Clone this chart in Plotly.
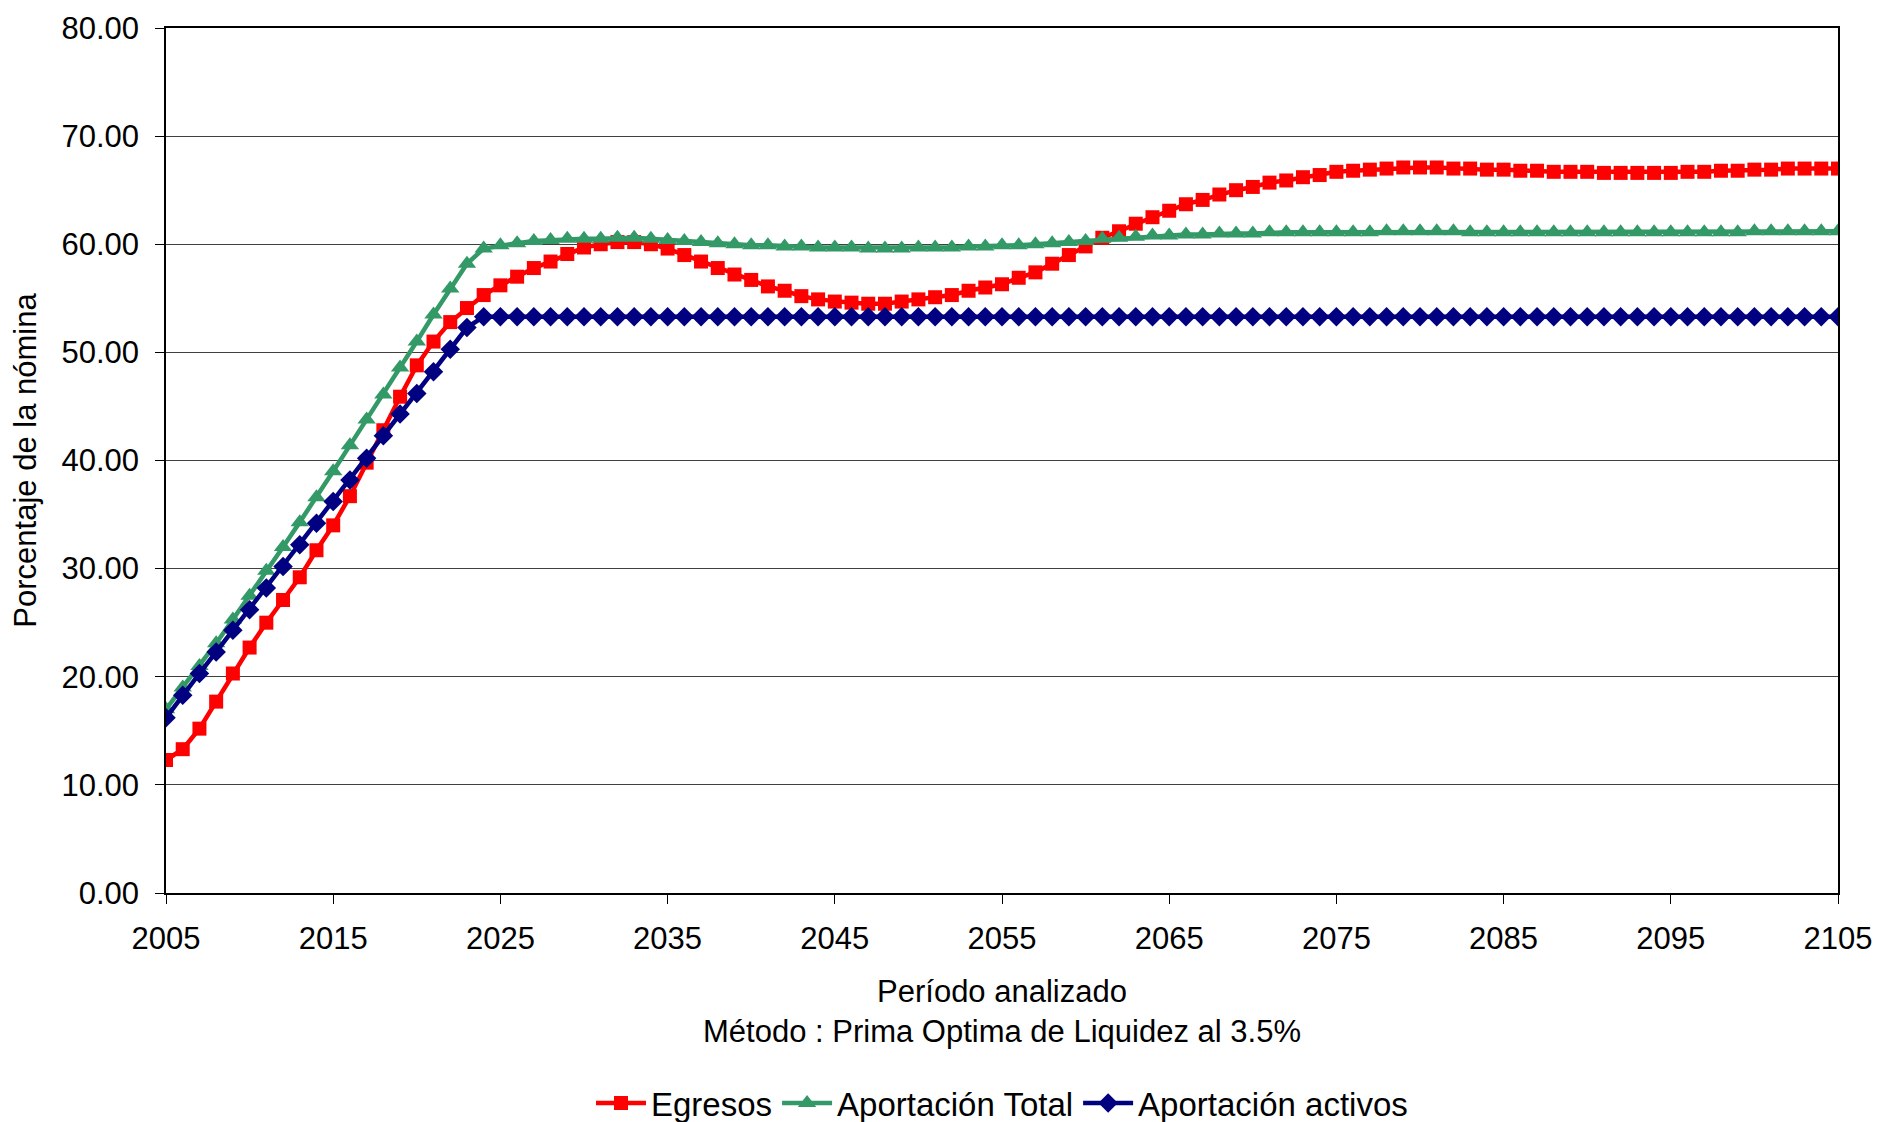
import plotly.graph_objects as go

years = list(range(2005, 2106))

egresos = [
    12.3, 13.3, 15.2, 17.7, 20.3, 22.7, 25.0, 27.1, 29.2, 31.7,
    34.0, 36.7, 39.8, 42.8, 45.9, 48.8, 51.0, 52.8, 54.1, 55.3,
    56.2, 57.0, 57.8, 58.4, 59.1, 59.7, 60.0, 60.2, 60.2, 60.0,
    59.6, 59.0, 58.4, 57.8, 57.2, 56.7, 56.1, 55.7, 55.2, 54.9,
    54.7, 54.6, 54.5, 54.5, 54.7, 54.9, 55.1, 55.3, 55.7, 56.0,
    56.3, 56.9, 57.4, 58.2, 59.0, 59.8, 60.6, 61.2, 61.9, 62.5,
    63.1, 63.7, 64.1, 64.6, 65.0, 65.3, 65.7, 65.9, 66.2, 66.4,
    66.7, 66.8, 66.9, 67.0, 67.1, 67.1, 67.1, 67.0, 67.0, 66.9,
    66.9, 66.8, 66.8, 66.7, 66.7, 66.7, 66.6, 66.6, 66.6, 66.6,
    66.6, 66.7, 66.7, 66.8, 66.8, 66.9, 66.9, 67.0, 67.0, 67.0,
    67.0,
]

aportacion_total = [
    17.0, 19.0, 21.0, 23.1, 25.3, 27.5, 29.8, 32.0, 34.3, 36.6,
    39.0, 41.4, 43.8, 46.1, 48.6, 51.0, 53.5, 55.9, 58.2, 59.6,
    59.9, 60.1, 60.3, 60.4, 60.5, 60.5, 60.5, 60.6, 60.6, 60.5,
    60.4, 60.3, 60.2, 60.1, 60.0, 59.9, 59.9, 59.8, 59.8, 59.7,
    59.7, 59.7, 59.6, 59.6, 59.6, 59.7, 59.7, 59.7, 59.8, 59.8,
    59.9, 59.9, 60.0, 60.1, 60.2, 60.3, 60.5, 60.6, 60.7, 60.8,
    60.8, 60.9, 60.9, 61.0, 61.0, 61.0, 61.1, 61.1, 61.1, 61.1,
    61.1, 61.1, 61.1, 61.2, 61.2, 61.2, 61.2, 61.2, 61.1, 61.1,
    61.1, 61.1, 61.1, 61.1, 61.1, 61.1, 61.1, 61.1, 61.1, 61.1,
    61.1, 61.1, 61.1, 61.1, 61.1, 61.2, 61.2, 61.2, 61.2, 61.2,
    61.2,
]

aportacion_activos = [
    16.2, 18.3, 20.3, 22.3, 24.3, 26.2, 28.2, 30.2, 32.2, 34.2,
    36.2, 38.2, 40.2, 42.3, 44.3, 46.2, 48.2, 50.3, 52.3, 53.3,
] + [53.3] * 81

x_ticks = list(range(2005, 2106, 10))
y_ticks = list(range(0, 81, 10))

font_family = "Liberation Sans, Arial, sans-serif"
fs = 31

fig = go.Figure()
fig.add_trace(go.Scatter(
    x=years, y=egresos, name="Egresos", mode="lines+markers",
    line=dict(color="#FF0000", width=4.5),
    marker=dict(symbol="square", size=14, color="#FF0000"),
))
fig.add_trace(go.Scatter(
    x=years, y=aportacion_total, name="Aportación Total", mode="lines+markers",
    line=dict(color="#339966", width=4.5),
    marker=dict(symbol="triangle-up", size=16, color="#339966"),
))
fig.add_trace(go.Scatter(
    x=years, y=aportacion_activos, name="Aportación activos", mode="lines+markers",
    line=dict(color="#000080", width=4.5),
    marker=dict(symbol="diamond", size=15, color="#000080"),
))

fig.update_layout(
    width=1900, height=1122,
    margin=dict(l=158, r=70, t=20, b=237),
    paper_bgcolor="white", plot_bgcolor="white",
    font=dict(family=font_family, size=fs, color="black"),
    showlegend=True,
    legend=dict(orientation="h", x=0.5, xanchor="center", xref="paper",
                y=0.024, yanchor="middle", yref="container",
                font=dict(size=33), itemwidth=50, tracegroupgap=0),
)
fig.update_xaxes(
    range=[2005, 2105], tickmode="array", tickvals=x_ticks,
    ticktext=[str(v) for v in x_ticks],
    showgrid=False, showline=True, linecolor="black", linewidth=1.5, mirror=True,
    ticks="outside", ticklen=9, tickcolor="black", ticklabelstandoff=8,
    ticklabeloverflow="allow",
    title=dict(text="Período analizado<br>Método : Prima Optima de Liquidez al 3.5%",
               standoff=25, font=dict(size=fs)),
    zeroline=False, automargin=False,
)
fig.update_yaxes(
    range=[0, 80], tickmode="array", tickvals=y_ticks,
    ticktext=[f"{v:.2f}" for v in y_ticks],
    showgrid=True, gridcolor="#404040", gridwidth=1.2,
    showline=True, linecolor="black", linewidth=1.5, mirror=True,
    ticks="outside", ticklen=9, tickcolor="black", ticklabelstandoff=10,
    ticklabeloverflow="allow",
    title=dict(text="Porcentaje de la nómina", standoff=18, font=dict(size=fs)),
    zeroline=False, automargin=False,
)

fig.write_html("out.html")
